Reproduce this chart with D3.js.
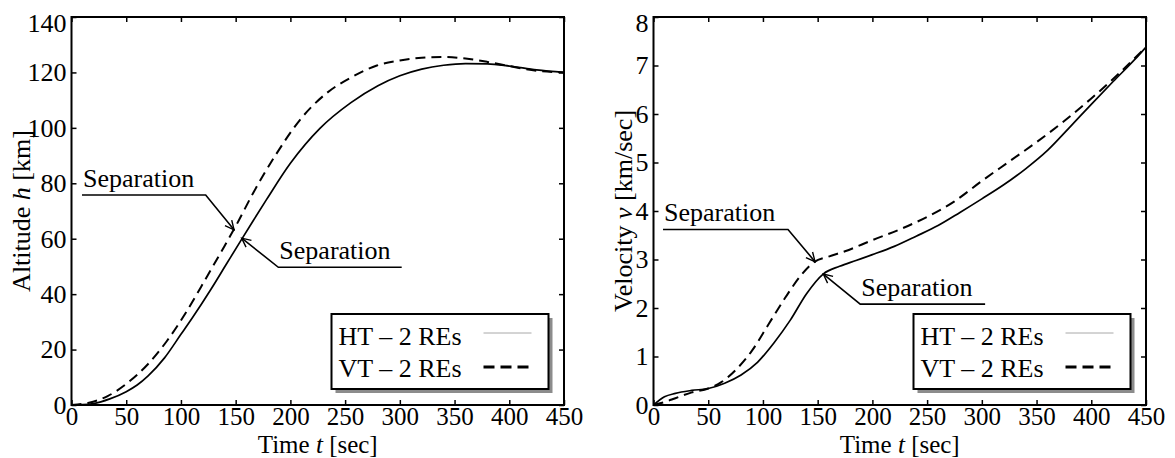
<!DOCTYPE html>
<html>
<head>
<meta charset="utf-8">
<script src="https://cdn.jsdelivr.net/npm/d3@7"></script>
<style>
  body { margin: 0; background: #fff; }
  text { font-family: "Liberation Serif", "Times New Roman", serif; fill: #000; }
</style>
</head>
<body>
<svg id="chart" width="1175" height="458"></svg>
<script>
var serif = '"Liberation Serif", "Times New Roman", serif';

// time axis ticks shared by both panels
var timeTicks = [0, 50, 100, 150, 200, 250, 300, 350, 400, 450];
var altTicks = [0, 20, 40, 60, 80, 100, 120, 140];
var velTicks = [0, 1, 2, 3, 4, 5, 6, 7, 8];

// altitude, horizontal take-off (HT)
var altTimeHT = [0, 10, 20, 35, 50, 60, 70, 85, 100, 110, 127, 141, 155, 166, 178, 200, 227, 255, 280, 300, 320, 340, 360, 380, 400, 425, 450];
var altHT = [0, 0.1, 0.5, 2.2, 4.8, 7.2, 10.5, 17, 25.5, 31.2, 41.5, 50.5, 59.5, 66.5, 74, 87.2, 99.8, 109, 115.2, 118.8, 121.2, 122.6, 123.2, 123.1, 122.3, 120.9, 120];

// altitude, vertical take-off (VT)
var altTimeVT = [0, 16, 33, 50, 70, 87, 104, 124, 140, 150, 166, 187, 209, 233, 257, 279, 300, 320, 340, 360, 380, 400, 425, 450];
var altVT = [0, 0.8, 3.2, 7.6, 14.8, 23, 33, 46.5, 57.5, 64.5, 76.5, 90.5, 103, 112.5, 118.5, 122.5, 124.3, 125.3, 125.6, 125, 123.8, 122.3, 120.6, 120];

// velocity, HT
var velTimeHT = [0, 10, 20, 35, 50, 65, 80, 95, 110, 125, 140, 155, 170, 185, 200, 220, 240, 260, 280, 300, 320, 340, 360, 380, 400, 420, 440, 450];
var velHT = [0, 0.17, 0.24, 0.3, 0.34, 0.45, 0.62, 0.88, 1.28, 1.75, 2.3, 2.7, 2.86, 2.98, 3.1, 3.27, 3.48, 3.7, 3.97, 4.25, 4.54, 4.87, 5.25, 5.72, 6.2, 6.67, 7.13, 7.38];

// velocity, VT
var velTimeVT = [0, 10, 20, 35, 50, 62, 75, 90, 105, 120, 135, 147, 160, 175, 200, 225, 250, 275, 300, 325, 350, 375, 400, 425, 450];
var velVT = [0, 0.06, 0.14, 0.26, 0.34, 0.47, 0.72, 1.12, 1.66, 2.2, 2.68, 2.95, 3.06, 3.17, 3.4, 3.62, 3.88, 4.2, 4.62, 5.02, 5.42, 5.85, 6.32, 6.83, 7.38];

var legendLabels = ['HT \u2013 2 REs', 'VT \u2013 2 REs'];

// "Separation" callouts: [text start, elbow, arrow tip] in data units
var altNotes = [
  [[9.6, 75.8], [122.6, 75.8], [148.5, 63.2]],
  [[301.7, 49.7], [189, 49.7], [155.5, 60.2]]
];
var velNotes = [
  [[8.7, 3.62], [122.9, 3.62], [147.6, 2.955]],
  [[303, 2.08], [188.9, 2.08], [155.2, 2.70]]
];

var svg = d3.select('#chart');

function panel(opts) {
  var left = opts.left, top = 17, w = 492.5, h = 388;
  var x = d3.scaleLinear().domain([0, 450]).range([0, w]);
  var y = d3.scaleLinear().domain([0, opts.ymax]).range([h, 0]);

  var g = svg.append('g').attr('transform', 'translate(' + left + ',' + top + ')');

  // ticks on all four sides, pointing inward
  var xAxis = g.append('g').attr('transform', 'translate(0,' + h + ')')
    .call(d3.axisBottom(x).tickValues(timeTicks).tickSize(-5).tickPadding(2).tickFormat(d3.format('d')));
  g.append('g')
    .call(d3.axisTop(x).tickValues(timeTicks).tickSize(-5).tickFormat(''));
  var yAxis = g.append('g')
    .call(d3.axisLeft(y).tickValues(opts.yticks).tickSize(-5).tickPadding(5));
  g.append('g').attr('transform', 'translate(' + w + ',0)')
    .call(d3.axisRight(y).tickValues(opts.yticks).tickSize(-5).tickFormat(''));

  g.selectAll('.domain').remove();
  g.selectAll('.tick line').attr('stroke', '#000').attr('stroke-width', 1.5);
  g.selectAll('.tick text')
    .attr('font-family', serif)
    .style('font-family', serif)
    .style('font-size', '26px')
    .attr('fill', '#000');
  xAxis.selectAll('.tick text').style('font-size', '25px');
  // the topmost y label sits a little below its tick in the original
  yAxis.selectAll('.tick text').filter(function (d) { return d === opts.ymax; })
    .attr('dy', '0.55em');

  g.append('rect')
    .attr('width', w).attr('height', h)
    .attr('fill', 'none').attr('stroke', '#000').attr('stroke-width', 2);

  var line = d3.line()
    .x(function (d) { return x(d[0]); })
    .y(function (d) { return y(d[1]); })
    .curve(d3.curveMonotoneX);

  g.append('path')
    .datum(d3.zip(opts.tHT, opts.vHT))
    .attr('d', line)
    .attr('fill', 'none').attr('stroke', '#000').attr('stroke-width', 1.7);

  g.append('path')
    .datum(d3.zip(opts.tVT, opts.vVT))
    .attr('d', line)
    .attr('fill', 'none').attr('stroke', '#000').attr('stroke-width', 2)
    .attr('stroke-dasharray', '10,6');

  // callouts
  opts.notes.forEach(function (n) {
    var pts = n.map(function (p) { return [x(p[0]), y(p[1])]; });
    g.append('path')
      .attr('d', d3.line()(pts))
      .attr('fill', 'none').attr('stroke', '#000').attr('stroke-width', 1.6);
    var tip = pts[2], el = pts[1];
    var ang = Math.atan2(el[1] - tip[1], el[0] - tip[0]);
    var len = 10, spread = 0.45;
    g.append('path')
      .attr('d', 'M' + (tip[0] + len * Math.cos(ang + spread)) + ',' + (tip[1] + len * Math.sin(ang + spread)) +
        'L' + tip[0] + ',' + tip[1] +
        'L' + (tip[0] + len * Math.cos(ang - spread)) + ',' + (tip[1] + len * Math.sin(ang - spread)))
      .attr('fill', 'none').attr('stroke', '#000').attr('stroke-width', 1.4);
    var tx = Math.min(pts[0][0], pts[1][0]);
    g.append('text')
      .attr('x', tx + 1).attr('y', pts[0][1] - 8)
      .attr('font-family', serif)
      .style('font-size', '26px')
      .text('Separation');
  });

  // legend
  var lg = g.append('g').attr('transform', 'translate(260,297)');
  lg.append('rect').attr('x', 4).attr('y', 4).attr('width', 217).attr('height', 75).attr('fill', '#8c8c8c');
  lg.append('rect').attr('width', 217).attr('height', 75)
    .attr('fill', '#fff').attr('stroke', '#000').attr('stroke-width', 2);
  legendLabels.forEach(function (lab, i) {
    lg.append('text').attr('x', 7).attr('y', 31 + i * 32)
      .attr('font-family', serif).style('font-size', '26px').text(lab);
    lg.append('line')
      .attr('x1', 152).attr('x2', 200)
      .attr('y1', 19 + i * 34).attr('y2', 19 + i * 34)
      .attr('stroke', i === 0 ? '#a8a8a8' : '#000')
      .attr('stroke-width', i === 0 ? 1 : 3)
      .attr('stroke-dasharray', i === 0 ? null : '11,6');
  });

  // axis titles
  var xt = g.append('text')
    .attr('x', w / 2).attr('y', h + 48)
    .attr('text-anchor', 'middle')
    .attr('font-family', serif)
    .style('font-size', '25px');
  xt.append('tspan').text('Time ');
  xt.append('tspan').style('font-style', 'italic').text('t');
  xt.append('tspan').text(' [sec]');

  var yt = g.append('text')
    .attr('transform', 'translate(' + opts.ylabX + ',' + (h / 2) + ') rotate(-90)')
    .attr('text-anchor', 'middle')
    .attr('font-family', serif)
    .style('font-size', '26px');
  yt.append('tspan').text(opts.ylab[0]);
  yt.append('tspan').style('font-style', 'italic').text(opts.ylab[1]);
  yt.append('tspan').text(opts.ylab[2]);
}

panel({
  left: 71.5, ymax: 140, yticks: altTicks,
  tHT: altTimeHT, vHT: altHT, tVT: altTimeVT, vVT: altVT,
  notes: altNotes, ylab: ['Altitude ', 'h', ' [km]'], ylabX: -42
});
panel({
  left: 653.5, ymax: 8, yticks: velTicks,
  tHT: velTimeHT, vHT: velHT, tVT: velTimeVT, vVT: velVT,
  notes: velNotes, ylab: ['Velocity ', 'v', ' [km/sec]'], ylabX: -22
});
</script>
</body>
</html>
